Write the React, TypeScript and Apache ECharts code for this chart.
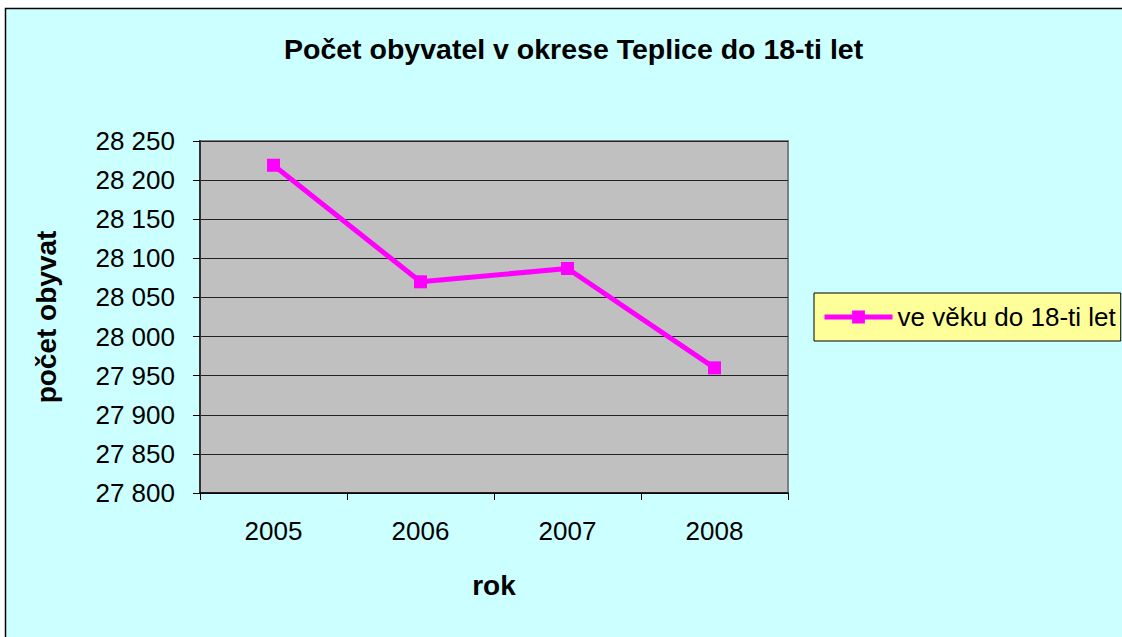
import React, { useEffect, useRef } from "react";
import * as echarts from "echarts";

const years = ["2005", "2006", "2007", "2008"];
const values = [28219, 28070, 28087, 27960];
const seriesName = "ve věku do 18-ti let";
const titleText = "Počet obyvatel v okrese Teplice do 18-ti let";
const yName = "počet obyvat";
const xName = "rok";

const FONT = "'Liberation Sans', Arial, sans-serif";

export default function App() {
  const ref = useRef<HTMLDivElement>(null);
  useEffect(() => {
    const chart = echarts.init(ref.current!, null, { renderer: "svg" });
    chart.setOption({
      animation: false,
      backgroundColor: "#ffffff",
      textStyle: { fontFamily: FONT, color: "#000" },
      graphic: [
        {
          type: "rect",
          z: -10,
          silent: true,
          shape: { x: 5.5, y: 8.5, width: 1200, height: 700 },
          style: { fill: "#CCFFFF", stroke: "#000", lineWidth: 1.5 },
        },
      ],
      title: {
        text: titleText,
        left: 279,
        top: 29,
        textStyle: { fontFamily: FONT, fontSize: 28.5, fontWeight: "bold", color: "#000" },
      },
      legend: {
        left: 814,
        top: 293,
        orient: "vertical",
        backgroundColor: "#FFFF99",
        borderColor: "#000",
        borderWidth: 1,
        borderRadius: 0,
        padding: [11, 5, 11, 8],
        itemWidth: 68,
        itemHeight: 16,
        itemGap: 5,
        lineStyle: { width: 5 },
        textStyle: { fontFamily: FONT, fontSize: 26, color: "#000", lineHeight: 26 },
        data: [seriesName],
      },
      grid: {
        left: 200,
        top: 141,
        width: 588,
        height: 352,
        show: true,
        backgroundColor: "#C0C0C0",
        borderColor: "#808080",
        borderWidth: 2,
      },
      xAxis: {
        type: "category",
        data: years,
        boundaryGap: true,
        name: xName,
        nameLocation: "middle",
        nameGap: 78,
        nameTextStyle: { fontFamily: FONT, fontSize: 28, fontWeight: "bold", color: "#000" },
        axisLine: { lineStyle: { color: "#000", width: 1.5 } },
        axisTick: { show: true, length: 7, lineStyle: { color: "#000" } },
        axisLabel: { fontFamily: FONT, fontSize: 26, color: "#000", margin: 25 },
      },
      yAxis: {
        type: "value",
        min: 27800,
        max: 28250,
        interval: 50,
        name: yName,
        nameLocation: "middle",
        nameGap: 140,
        nameTextStyle: { fontFamily: FONT, fontSize: 28, fontWeight: "bold", color: "#000" },
        axisLine: { show: true, lineStyle: { color: "#333", width: 2 } },
        axisTick: { show: true, length: 7, lineStyle: { color: "#000" } },
        splitLine: { lineStyle: { color: "#222", width: 1 } },
        axisLabel: {
          fontFamily: FONT,
          fontSize: 26,
          color: "#000",
          margin: 25,
          formatter: (v: number) => {
            const s = String(Math.round(v));
            return s.slice(0, s.length - 3) + " " + s.slice(s.length - 3);
          },
        },
      },
      series: [
        {
          name: seriesName,
          type: "line",
          data: values,
          symbol: "rect",
          symbolSize: 13,
          itemStyle: { color: "#FF00FF" },
          lineStyle: { color: "#FF00FF", width: 5 },
        },
      ],
    });
    return () => chart.dispose();
  }, []);
  return (
    <div
      ref={ref}
      style={{ position: "absolute", left: 0, top: 0, width: 1122, height: 637 }}
    />
  );
}
